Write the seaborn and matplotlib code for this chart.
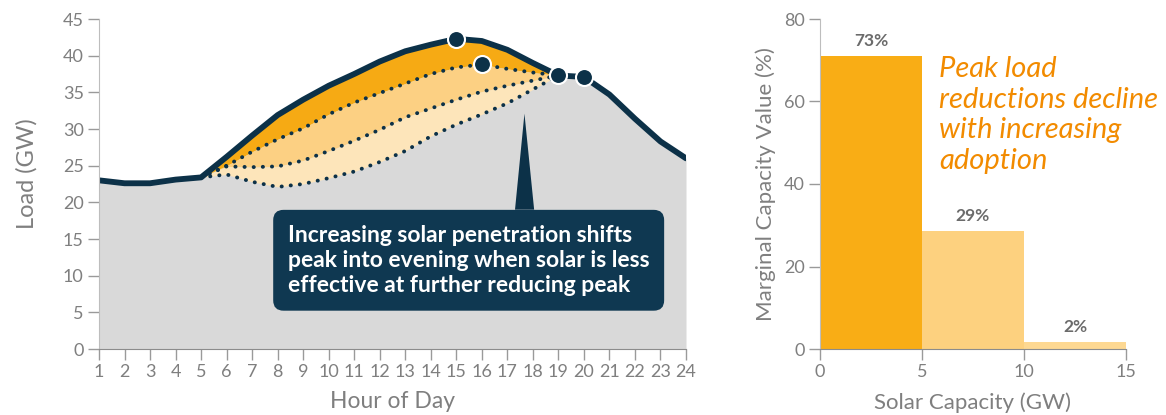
import numpy as np
import pandas as pd
import matplotlib.pyplot as plt
import seaborn as sns
from matplotlib.patches import Polygon

# load curve, hour of day 1..24
hours = np.arange(1, 25)
load = [23.0, 22.6, 22.6, 23.1, 23.4, 26.2, 29.1, 31.9, 34.0, 35.9, 37.5, 39.2,
        40.6, 41.5, 42.3, 42.0, 40.8, 39.0, 37.3, 37.1, 34.7, 31.4, 28.3, 26.0]

# net load with increasing solar penetration (hours 5..19)
net_hours = np.arange(5, 20)
net_low = [23.4, 25.0, 26.9, 28.6, 30.1, 32.0, 33.6, 34.9, 36.2, 37.5, 38.4, 38.8, 38.2, 37.7, 37.3]
net_mid = [23.4, 24.9, 24.8, 24.9, 25.7, 27.0, 28.4, 29.9, 31.6, 32.8, 34.0, 35.1, 35.9, 36.6, 37.3]
net_high = [23.4, 23.8, 22.8, 22.1, 22.5, 23.3, 24.2, 25.5, 27.0, 29.0, 30.6, 32.0, 33.5, 35.4, 37.3]

# peak of each case
peak_hours = [15, 16, 19, 20]
peak_loads = [42.3, 38.8, 37.3, 37.1]

# marginal capacity value per 5 GW block
cap_edges = [0, 5, 10, 15]
cap_value = [71.0, 28.6, 1.6]
cap_labels = ['73%', '29%', '2%']

navy = '#0c3148'
gray_txt = '#7f7f7f'

sns.set_style('white')
plt.rcParams['font.family'] = ['Lato', 'DejaVu Sans']

fig = plt.figure(figsize=(11.66, 4.15), dpi=100)
W, H = 1166, 415
ax = fig.add_axes([99 / W, 66 / H, 587 / W, 330 / H])
ax2 = fig.add_axes([820 / W, 66 / H, 306 / W, 330 / H])

# --- left: load curve ---
main_part = np.array(load)[net_hours - 1]
ax.fill_between(hours, load, color='#d9d9d9', lw=0)
ax.fill_between(net_hours, main_part, net_low, color='#f6aa14', lw=0)
ax.fill_between(net_hours, net_low, net_mid, color='#fcd083', lw=0)
ax.fill_between(net_hours, net_mid, net_high, color='#fde5ba', lw=0)

for net in [net_low, net_mid, net_high]:
    sns.lineplot(x=net_hours, y=net, ax=ax, color=navy, lw=2.8,
                 ls=(0, (0.05, 2.3)), dash_capstyle='round')
sns.lineplot(x=hours, y=load, ax=ax, color=navy, lw=4.2, solid_capstyle='round')
sns.scatterplot(x=peak_hours, y=peak_loads, ax=ax, s=150, color=navy,
                edgecolor='white', linewidth=1.5, zorder=5)

ax.add_patch(Polygon([(17.3, 19.0), (18.05, 19.0), (17.67, 32.1)],
                     closed=True, color=navy, lw=0, zorder=4))
ax.text(8.4, 12.1,
        'Increasing solar penetration shifts\npeak into evening when solar is less\neffective at further reducing peak',
        ha='left', va='center', color='white', fontsize=16.5, fontweight='bold',
        linespacing=1.25, zorder=6,
        bbox=dict(boxstyle='round,pad=0.64,rounding_size=0.45', fc='#0f3851', ec='none'))

ax.set_xlim(1, 24)
ax.set_ylim(0, 45)
ax.set_xticks(hours)
ax.set_yticks(range(0, 50, 5))
ax.set_xlabel('Hour of Day', fontsize=16.5, color=gray_txt, labelpad=8)
ax.set_ylabel('Load (GW)', fontsize=17, color=gray_txt, labelpad=8)
ax.yaxis.set_label_coords(-0.105, 0.53)

# --- right: marginal capacity value ---
centers = [(a + b) / 2 for a, b in zip(cap_edges[:-1], cap_edges[1:])]
df = pd.DataFrame({'cap': centers, 'value': cap_value, 'label': cap_labels})
sns.barplot(data=df, x='cap', y='value', hue='label', native_scale=True, width=1,
            dodge=False, palette=['#f9ad15', '#fdd17f', '#fdd892'], saturation=1,
            legend=False, linewidth=0, ax=ax2)
for c, v, lbl in zip(centers, cap_value, cap_labels):
    ax2.annotate(lbl, (c, v), xytext=(0, 5), textcoords='offset points',
                 ha='center', va='bottom', fontsize=12.5, fontweight='bold', color='#6b6b6b')

ax2.set_xlim(0, 15)
ax2.set_ylim(0, 80)
ax2.set_xticks(cap_edges)
ax2.set_yticks(range(0, 81, 20))
ax2.set_xlabel('Solar Capacity (GW)', fontsize=16, color=gray_txt, labelpad=9)
ax2.set_ylabel('Marginal Capacity Value (%)', fontsize=16, color=gray_txt, labelpad=6)

for a in (ax, ax2):
    sns.despine(ax=a)
    a.spines['left'].set_color('#bdbdbd')
    a.spines['bottom'].set_color('#8c8c8c')
    a.tick_params(axis='both', length=8, width=1, color='#9a9a9a',
                  labelcolor=gray_txt, labelsize=13, left=True, bottom=True, pad=3)

fig.text(939 / W, 1 - 56 / H,
         'Peak load\nreductions decline\nwith increasing\nadoption',
         ha='left', va='top', fontsize=21, style='italic', color='#f28b00',
         linespacing=1.22)

fig.savefig('out.png', dpi=100)
